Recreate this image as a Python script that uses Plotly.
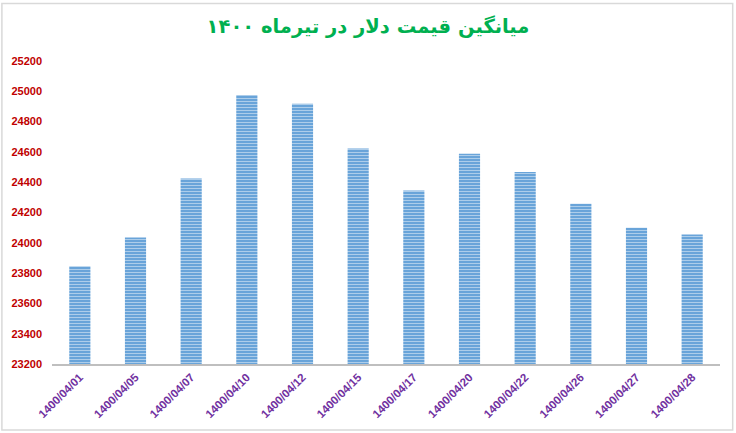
import plotly.graph_objects as go

dates = ['1400/04/01', '1400/04/05', '1400/04/07', '1400/04/10', '1400/04/12', '1400/04/15',
         '1400/04/17', '1400/04/20', '1400/04/22', '1400/04/26', '1400/04/27', '1400/04/28']
avg_price = [23845, 24035, 24425, 24975, 24918, 24622, 24345, 24588, 24468, 24258, 24100, 24055]

title_text = 'میانگین قیمت دلار در تیرماه ۱۴۰۰'

fig = go.Figure()

fig.add_trace(
    go.Bar(
        x=dates,
        y=avg_price,
        width=0.38,
        marker=dict(
            color='#5B9BD5',
            line=dict(width=0),
            pattern=dict(shape='-', fgcolor='#ffffff', bgcolor='#5B9BD5',
                         size=3, solidity=0.45),
        ),
    )
)

fig.update_layout(
    width=736,
    height=433,
    margin=dict(l=52, r=16, t=61, b=69),
    paper_bgcolor='white',
    plot_bgcolor='white',
    showlegend=False,
    title=dict(
        text=title_text,
        x=0.5, xanchor='center',
        y=0.94, yanchor='middle',
        font=dict(family='DejaVu Sans', size=19.5, color='#00B050', weight='bold'),
    ),
)

fig.update_xaxes(
    type='category',
    tickangle=-45,
    showline=True,
    linecolor='#BFBFBF',
    linewidth=2,
    ticks='',
    showgrid=False,
    automargin=False,
    tickfont=dict(family='Liberation Sans', size=11.5, color='#7030A0', weight='bold'),
)

fig.update_yaxes(
    range=[23200, 25200],
    dtick=200,
    showgrid=False,
    zeroline=False,
    showline=False,
    ticks='',
    tickformat='d',
    ticklabelstandoff=9,
    automargin=False,
    tickfont=dict(family='Liberation Sans', size=11, color='#C00000', weight='bold'),
)

# light outer frame of the chart
fig.add_shape(type='rect', xref='paper', yref='paper',
              x0=-0.075, x1=1.019, y0=-0.218, y1=1.19,
              line=dict(color='#D9D9D9', width=1.5), fillcolor='rgba(0,0,0,0)',
              layer='below')

# page body has an 8px default margin; remove it so the figure fills the window
fig.write_html('out.html', config={'displayModeBar': False},
               post_script="document.body.style.margin='0';")
